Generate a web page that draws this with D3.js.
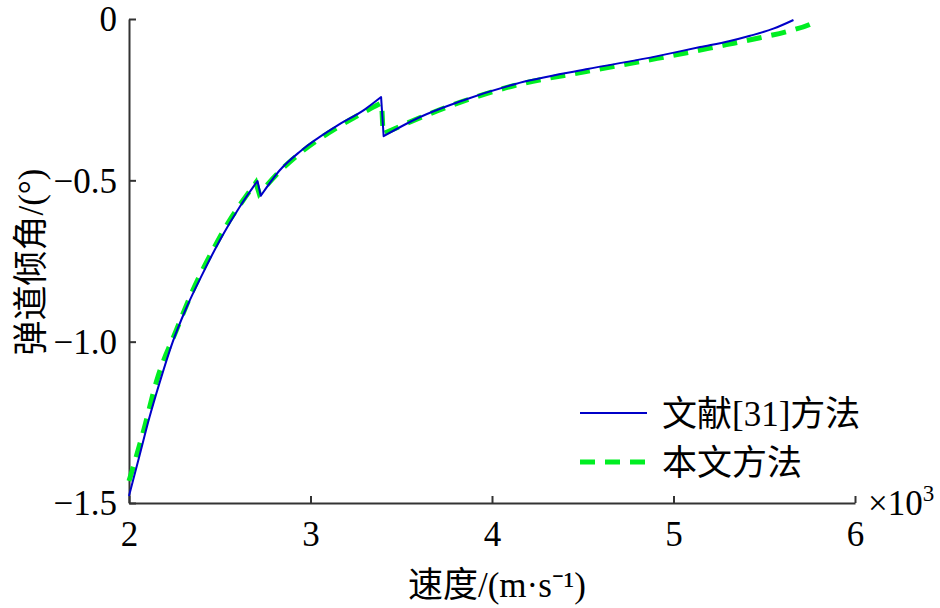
<!DOCTYPE html>
<html><head><meta charset="utf-8">
<script src="https://cdn.jsdelivr.net/npm/d3@7"></script>
<style>body{margin:0;background:#fff}</style>
</head><body>
<svg id="c" width="940" height="608"></svg>
<script>
// Data (speed in 10^3 m/s, angle in degrees)
const refX = [2.000,2.057,2.112,2.167,2.240,2.314,2.406,2.516,2.607,2.708,2.726,2.827,2.946,3.143,3.300,3.389,3.403,3.595,3.831,4.125,4.518,4.911,5.147,5.305,5.422,5.550,5.661];
const refY = [-1.478,-1.355,-1.236,-1.130,-1.002,-0.898,-0.789,-0.670,-0.585,-0.502,-0.548,-0.471,-0.409,-0.332,-0.280,-0.242,-0.363,-0.306,-0.254,-0.202,-0.156,-0.115,-0.087,-0.069,-0.052,-0.030,-0.003];
const ourX = [2.000,2.075,2.158,2.259,2.350,2.469,2.552,2.626,2.699,2.718,2.827,2.946,3.143,3.300,3.392,3.400,3.595,3.831,4.125,4.518,4.911,5.193,5.331,5.477,5.624,5.762,5.797];
const ourY = [-1.432,-1.287,-1.111,-0.967,-0.843,-0.709,-0.626,-0.564,-0.507,-0.542,-0.474,-0.414,-0.338,-0.287,-0.260,-0.356,-0.308,-0.257,-0.206,-0.163,-0.122,-0.091,-0.075,-0.058,-0.039,-0.014,-0.004];
const xTicks = [2,3,4,5,6];
const yTicks = [0,-0.5,-1.0,-1.5];
const yTickLabels = ["0","\u22120.5","\u22121.0","\u22121.5"];
const seriesNames = ["文献[31]方法","本文方法"];

const svg = d3.select("#c");
const L=129, R=855, T=19, B=503;
const x = d3.scaleLinear().domain([2,6]).range([L,R]);
const y = d3.scaleLinear().domain([-1.5,0]).range([B,T]);
const serif = "Liberation Serif, Times New Roman, serif";
const cjk = "Liberation Serif, Noto Sans CJK SC, serif";
const axisCol = "#333";

// axes
const xa = svg.append("g").attr("transform",`translate(0,${B})`)
  .call(d3.axisBottom(x).tickValues(xTicks).tickSizeInner(-7).tickSizeOuter(0).tickPadding(16).tickFormat(d3.format("d")));
const ya = svg.append("g").attr("transform",`translate(${L},0)`)
  .call(d3.axisLeft(y).tickValues(yTicks).tickSizeInner(-7).tickSizeOuter(0).tickPadding(12).tickFormat((d,i)=>yTickLabels[i]));
[xa,ya].forEach(a=>{
  a.attr("font-family",serif).attr("font-size",35);
  a.select(".domain").attr("stroke",axisCol).attr("stroke-width",2);
  a.selectAll(".tick line").attr("stroke",axisCol).attr("stroke-width",2);
  a.selectAll(".tick text").attr("fill","#000");
});
xa.selectAll(".tick text").attr("y",18).attr("dy","0.71em");
ya.selectAll(".tick text").attr("dy","0.34em");

// lines: split into smooth pieces at the jumps
function pieces(xs, ys){
  const pts = xs.map((v,i)=>[v,ys[i]]);
  const segs = [[pts[0]]];
  for(let i=1;i<pts.length;i++){
    if(pts[i][1] < pts[i-1][1]-0.02){ segs.push([pts[i-1],pts[i]]); segs.push([pts[i]]); }
    else segs[segs.length-1].push(pts[i]);
  }
  return segs;
}
const smooth = d3.line().x(d=>x(d[0])).y(d=>y(d[1])).curve(d3.curveMonotoneX);
function pathFor(xs,ys){
  return pieces(xs,ys).map((s,i)=>{
    const d = smooth(s);
    return i===0 ? d : "L"+d.slice(1);
  }).join("");
}
svg.append("path").attr("d",pathFor(ourX,ourY)).attr("fill","none").attr("stroke","#00ee22").attr("stroke-width",5)
  .attr("stroke-dasharray","15,10");
svg.append("path").attr("d",pathFor(refX,refY)).attr("fill","none").attr("stroke","#0000c8").attr("stroke-width",2).attr("stroke-linejoin","round");

// legend
const lg = svg.append("g");
lg.append("line").attr("x1",580).attr("x2",647).attr("y1",413).attr("y2",413).attr("stroke","#0000c8").attr("stroke-width",2);
lg.append("line").attr("x1",580).attr("x2",647).attr("y1",462).attr("y2",462).attr("stroke","#00ee22").attr("stroke-width",5).attr("stroke-dasharray","15,10");
lg.selectAll("text").data(seriesNames).enter().append("text")
  .attr("x",662).attr("y",(d,i)=>413+i*49).attr("dy","0.36em")
  .attr("font-family",cjk).attr("font-size",35).text(d=>d);

// axis titles
svg.append("text").attr("x",497).attr("y",584).attr("dy","0.36em").attr("text-anchor","middle")
  .attr("font-family",cjk).attr("font-size",35).text("速度/(m·s\u207B\u00B9)");
svg.append("text").attr("transform","translate(30,262) rotate(-90)").attr("dy","0.36em").attr("text-anchor","middle")
  .attr("font-family",cjk).attr("font-size",35).text("弹道倾角/(°)");
// multiplier
const m = svg.append("text").attr("x",868).attr("y",515).attr("font-family",serif).attr("font-size",35);
m.append("tspan").text("×10");
m.append("tspan").attr("dy",-14).attr("font-size",23).text("3");
</script>
</body></html>
